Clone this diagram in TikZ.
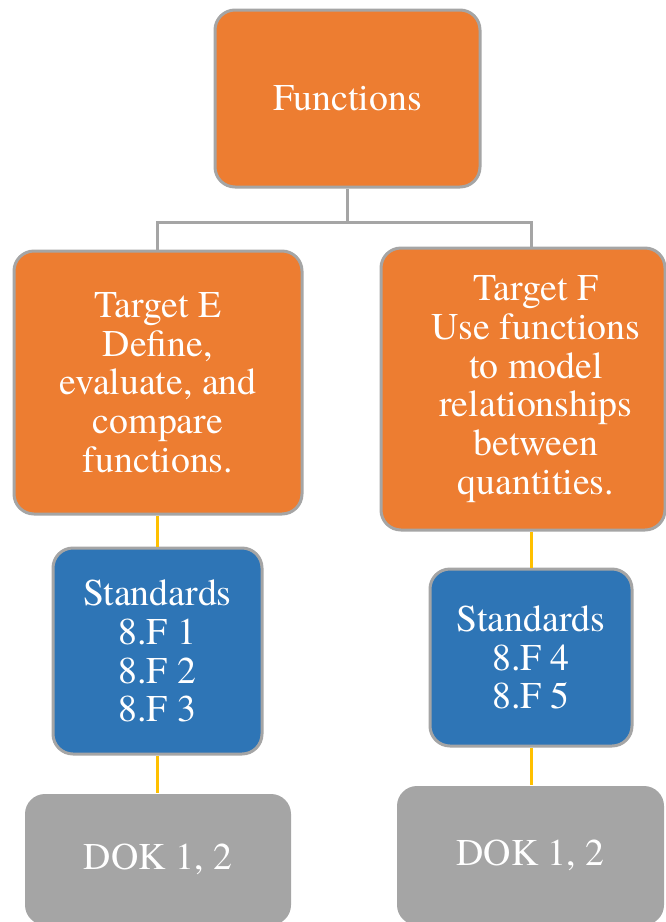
\documentclass[tikz,border=0pt]{standalone}
\usepackage{fontspec}
\setmainfont{TeX Gyre Termes}
\definecolor{boxorange}{HTML}{ED7D31}
\definecolor{boxblue}{HTML}{2E75B6}
\definecolor{boxgray}{HTML}{A5A5A5}
\definecolor{linegold}{HTML}{FFC000}
\begin{document}
\begin{tikzpicture}[x=1pt, y=-1pt,
    card/.style={rounded corners=20pt, draw=boxgray, line width=3pt, text=white,
      align=center, inner sep=0pt,
      font=\fontsize{37.8}{38.7}\selectfont},
    target/.style={card, fill=boxorange},
    standard/.style={card, fill=boxblue},
    dok/.style={card, fill=boxgray, draw=none},
    tree/.style={draw=boxgray, line width=3pt},
    chain/.style={draw=linegold, line width=3pt}]
    \useasboundingbox (0, 0) rectangle (666, 922) ;
    \node[target, minimum width=265pt, minimum height=177pt] (fn) at (347.5, 98.5) {Functions} ;
    \node[target, minimum width=288pt, minimum height=263pt] (te) at (158, 382.5)
      {Target E\\Define,\\evaluate, and\\compare\\functions.} ;
    \node[target, minimum width=284pt, minimum height=282pt] (tf) at (523, 389)
      {\hspace*{26pt}Target F\\\hspace*{26pt}Use functions\\\hspace*{26pt}to model\\\hspace*{26pt}relationships\\\hspace*{26pt}between\\\hspace*{26pt}quantities.} ;
    \node[standard, minimum width=209pt, minimum height=206pt] (se) at (157.5, 651)
      {Standards\\8.F 1\\8.F 2\\8.F 3} ;
    \node[standard, minimum width=202pt, minimum height=177pt] (sf) at (531, 657.5)
      {Standards\\8.F 4\\8.F 5} ;
    \node[dok, minimum width=266pt, minimum height=131pt] (de) at (158, 859.5) {DOK 1, 2} ;
    \node[dok, minimum width=267pt, minimum height=139pt] (df) at (530.5, 855.5) {DOK 1, 2} ;
    \coordinate (split) at (347.5, 222) ;
    \draw[tree] (fn.south) -- (split) -| (se.north |- te.north) ;
    \draw[tree] (split) -| (sf.north |- tf.north) ;
    \draw[chain] (te.south -| se.north) -- (se.north) ;
    \draw[chain] (se.south) -- (se.south |- de.north) ;
    \draw[chain] (sf.north |- tf.south) -- (sf.north) ;
    \draw[chain] (sf.south) -- (sf.south |- df.north) ;
  \end{tikzpicture}
\end{document}
